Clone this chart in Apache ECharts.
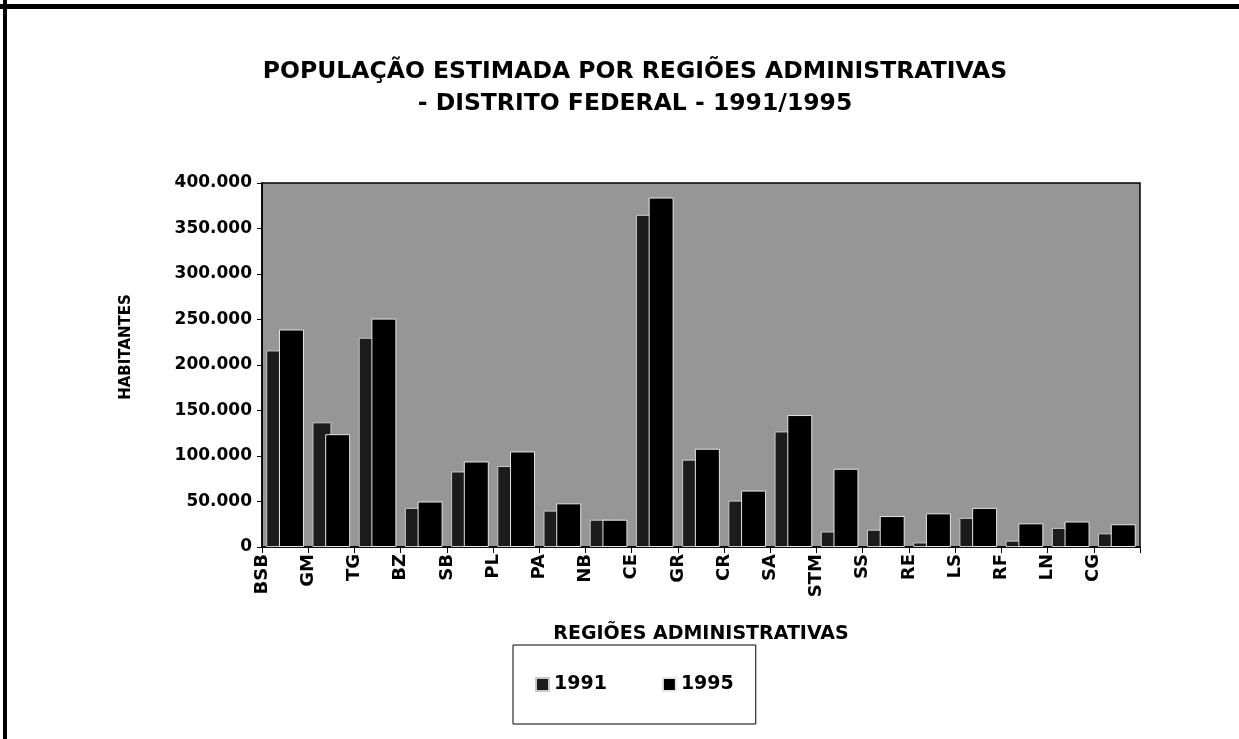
<!DOCTYPE html>
<html>
<head>
<meta charset="utf-8">
<script src="https://cdn.jsdelivr.net/npm/echarts@6/dist/echarts.min.js"></script>
<style>
  html, body { margin: 0; padding: 0; background: #fff; }
  #chart { width: 1239px; height: 739px; }
</style>
</head>
<body>
<div id="chart"></div>
<script>
// Regiões administrativas do DF, estimativas
const regioes = ["BSB", "GM", "TG", "BZ", "SB", "PL", "PA", "NB", "CE", "GR",
  "CR", "SA", "STM", "SS", "RE", "LS", "RF", "LN", "CG"];
const pop1991 = [216000, 137000, 230000, 43000, 83000, 89000, 40000, 30000, 365000, 96000,
  51000, 127000, 17000, 19000, 5000, 32000, 7000, 21000, 15000];
const pop1995 = [239000, 124000, 251000, 50000, 94000, 105000, 48000, 30000, 384000, 108000,
  62000, 145000, 86000, 34000, 37000, 43000, 26000, 28000, 25000];
const marcasY = { min: 0, max: 400000, interval: 50000 };

const fonte = "'DejaVu Sans', sans-serif";
const milhar = (v) => String(v).replace(/\B(?=(\d{3})+(?!\d))/g, ".");

const chart = echarts.init(document.getElementById("chart"), null, { renderer: "canvas" });

chart.setOption({
  backgroundColor: "#fff",
  animation: false,
  textStyle: { fontFamily: fonte, color: "#000" },
  title: {
    text: "POPULAÇÃO ESTIMADA POR REGIÕES ADMINISTRATIVAS\n- DISTRITO FEDERAL - 1991/1995",
    left: 630,
    top: 51,
    textAlign: "center",
    textStyle: { fontFamily: fonte, fontWeight: "bold", fontSize: 23.5, lineHeight: 32, color: "#000" },
  },
  legend: {
    data: ["1991", "1995"],
    left: 513,
    top: 645,
    padding: [30, 22],
    itemGap: 55,
    itemWidth: 13,
    itemHeight: 13,
    icon: "rect",
    borderColor: "#000",
    borderWidth: 1,
    backgroundColor: "#fff",
    textStyle: { fontFamily: fonte, fontWeight: "bold", fontSize: 19, color: "#000" },
  },
  grid: {
    left: 262, right: 99, top: 183, bottom: 192,
    show: true,
    backgroundColor: "#969696",
    borderColor: "#000",
    borderWidth: 1.5,
  },
  xAxis: [
    {
      type: "category",
      data: regioes,
      position: "bottom",
      axisLine: { lineStyle: { color: "#000", width: 1.5 } },
      axisTick: { show: true, length: 6, interval: 0, lineStyle: { color: "#000" } },
      axisLabel: { show: false },
      name: "REGIÕES ADMINISTRATIVAS",
      nameLocation: "middle",
      nameGap: 78,
      nameTextStyle: { fontFamily: fonte, fontWeight: "bold", fontSize: 19, color: "#000" },
    },
    {
      // rótulos nas divisas das categorias, como no original
      type: "category",
      data: regioes.concat([""]),
      position: "bottom",
      boundaryGap: false,
      axisLine: { show: false },
      axisTick: { show: false },
      axisLabel: {
        interval: 0, rotate: 90, margin: 7,
        fontFamily: fonte, fontWeight: "bold", fontSize: 18, color: "#000",
      },
    },
  ],
  yAxis: {
    type: "value",
    min: marcasY.min,
    max: marcasY.max,
    interval: marcasY.interval,
    axisLine: { show: true, lineStyle: { color: "#000", width: 1.5 } },
    axisTick: { show: true, length: 5, lineStyle: { color: "#000" } },
    splitLine: { show: false },
    axisLabel: {
      margin: 10,
      formatter: milhar,
      fontFamily: fonte, fontWeight: "bold", fontSize: 17, color: "#000",
    },
    name: "HABITANTES",
    nameLocation: "middle",
    nameRotate: 90,
    nameGap: 128,
    nameTextStyle: { fontFamily: fonte, fontWeight: "bold", fontSize: 15, color: "#000", padding: [0, 0, 0, 36] },
  },
  series: [
    {
      name: "1991",
      type: "bar",
      data: pop1991,
      barWidth: 19,
      barGap: "-33%",
      itemStyle: { color: "#1c1c1c", borderColor: "#c8c8c8", borderWidth: 1 },
    },
    {
      name: "1995",
      type: "bar",
      data: pop1995,
      barWidth: 25,
      itemStyle: { color: "#000", borderColor: "#e6e6e6", borderWidth: 1 },
    },
  ],
  graphic: [
    { type: "rect", shape: { x: 0, y: 4, width: 1239, height: 5 }, style: { fill: "#000" } },
    { type: "rect", shape: { x: 3, y: 0, width: 4, height: 739 }, style: { fill: "#000" } },
  ],
});
</script>
</body>
</html>
